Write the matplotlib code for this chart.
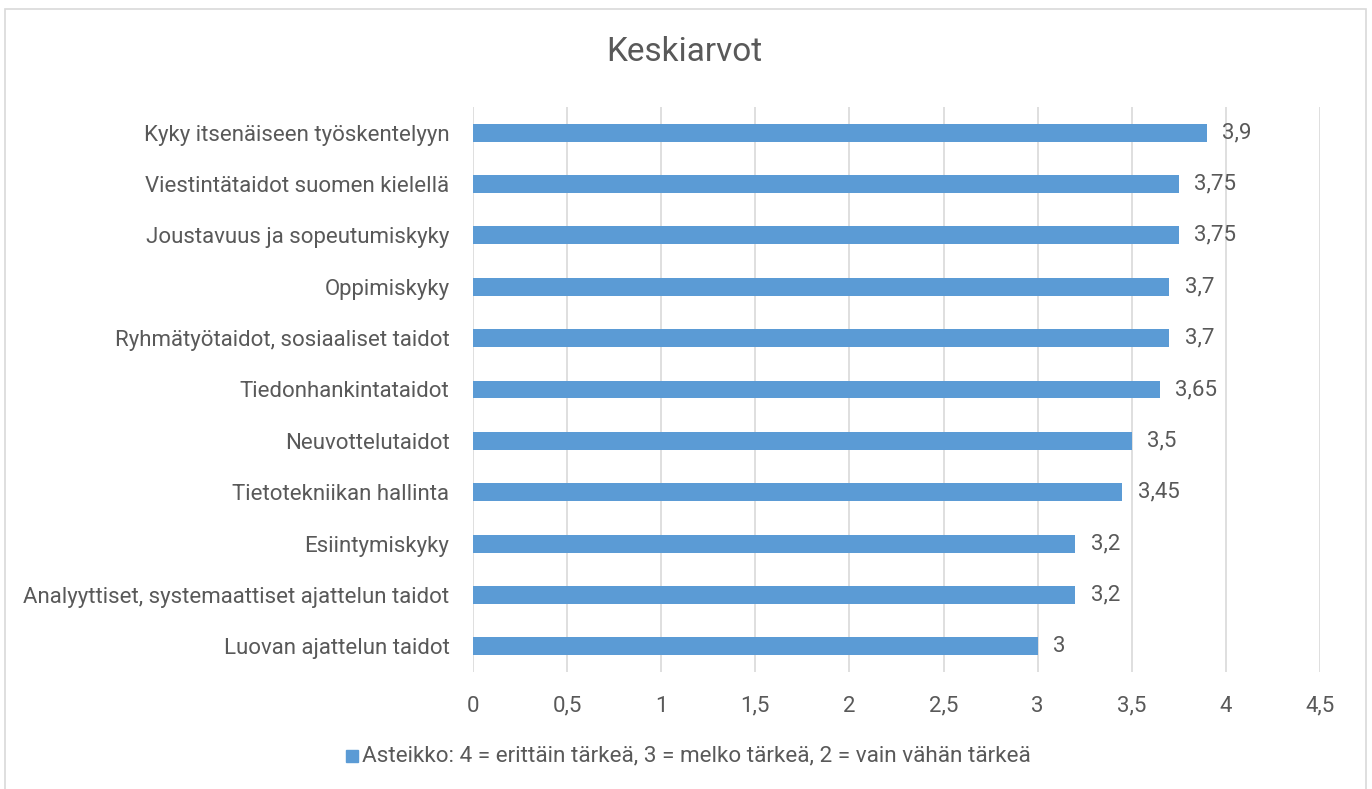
import matplotlib
matplotlib.use("Agg")
import matplotlib.pyplot as plt
from matplotlib.patches import Rectangle

categories = [
    "Kyky itsenäiseen työskentelyyn",
    "Viestintätaidot suomen kielellä",
    "Joustavuus ja sopeutumiskyky",
    "Oppimiskyky",
    "Ryhmätyötaidot, sosiaaliset taidot",
    "Tiedonhankintataidot",
    "Neuvottelutaidot",
    "Tietotekniikan hallinta",
    "Esiintymiskyky",
    "Analyyttiset, systemaattiset ajattelun taidot",
    "Luovan ajattelun taidot",
]
values = [3.9, 3.75, 3.75, 3.7, 3.7, 3.65, 3.5, 3.45, 3.2, 3.2, 3.0]
xticks = [0, 0.5, 1, 1.5, 2, 2.5, 3, 3.5, 4, 4.5]
title = "Keskiarvot"
series_name = "Asteikko: 4 = erittäin tärkeä, 3 = melko tärkeä, 2 = vain vähän tärkeä"

plt.rcParams["font.family"] = ["Roboto", "DejaVu Sans"]

def fmt(v):
    return ("%g" % v).replace(".", ",")

txt = "#595959"
bar_c = "#5B9BD5"
grid_c = "#D9D9D9"

fig = plt.figure(figsize=(13.72, 7.89), dpi=100)
fig.patches.append(Rectangle((5/1372, -0.01), (1366-5)/1372, 1 - 9/789 + 0.01,
                             transform=fig.transFigure, fill=False,
                             edgecolor="#D9D9D9", linewidth=1.2))

ax = fig.add_axes([473/1372, 1-672/789, (1320-473)/1372, (672-107)/789])
y = list(range(len(categories)))
ax.barh(y, values, height=0.35, color=bar_c, zorder=3)
ax.set_ylim(len(categories)-0.5, -0.5)
ax.set_xlim(0, 4.5)
ax.set_yticks(y)
ax.set_yticklabels(categories, fontsize=16, color=txt)
ax.set_xticks(xticks)
ax.set_xticklabels([fmt(t) for t in xticks], fontsize=16, color=txt)
ax.tick_params(axis="both", length=0)
ax.tick_params(axis="y", pad=17)
ax.tick_params(axis="x", pad=17)
ax.grid(axis="x", color=grid_c, linewidth=1.2, zorder=0)
for s in ax.spines.values():
    s.set_visible(False)

for yi, v in zip(y, values):
    ax.annotate(fmt(v), (v, yi), xytext=(11, 0), textcoords="offset points",
                va="center", ha="left", fontsize=16, color=txt)

fig.text(684/1372, 1-52/789, title, ha="center", va="center", fontsize=24, color=txt)

fig.patches.append(Rectangle((346/1372, 1-762/789), 12/1372, 12/789,
                             transform=fig.transFigure, color=bar_c))
fig.text(362/1372, 1-756/789, series_name, ha="left", va="center", fontsize=16.2, color=txt)

fig.savefig("out.png", dpi=100)
